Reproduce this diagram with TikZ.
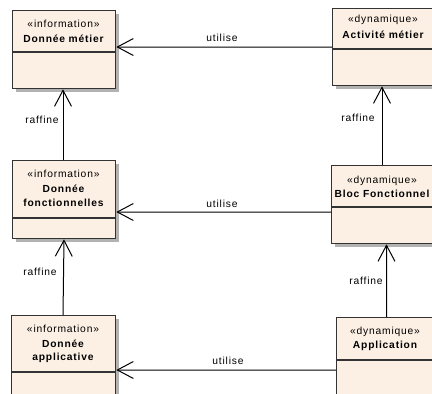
\documentclass[tikz,border=0pt]{standalone}
\usepackage{fontspec}
\setmainfont{Liberation Sans}[LetterSpace=8]
\usetikzlibrary{arrows.meta,shadows}
\definecolor{boxfill}{RGB}{252,240,228}
\begin{document}
\begin{tikzpicture}[x=1bp,y=-1bp,
  box/.style={draw=black!80, line width=1.3bp, fill=boxfill, anchor=north west, inner sep=0pt,
    drop shadow={shadow xshift=3bp, shadow yshift=-3bp, fill=black!30, opacity=1}},
  st/.style={font=\fontsize{10.3}{11}\selectfont, inner sep=0pt},
  ttl/.style={font=\fontsize{10.3}{11}\selectfont\bfseries, inner sep=0pt, align=center},
  lbl/.style={font=\fontsize{10.3}{11}\selectfont, inner sep=0pt},
  div/.style={draw=black!80, line width=1.1bp},
  rel/.style={draw=black, line width=1bp, -{Straight Barb[length=16bp,width=17bp,line width=1bp]}}
]
\useasboundingbox (0,0) rectangle (432,394);
\clip (0,0) rectangle (432,394);
% boxes
\node[box, minimum width=103bp, minimum height=78bp] (b1) at (12,10) {};
\node[box, minimum width=110bp, minimum height=77bp] (b2) at (332,8) {};
\node[box, minimum width=103bp, minimum height=78bp] (b3) at (12,160) {};
\node[box, minimum width=110bp, minimum height=78bp] (b4) at (331,165) {};
\node[box, minimum width=104bp, minimum height=100bp] (b5) at (11,315) {};
\node[box, minimum width=110bp, minimum height=100bp] (b6) at (336,317) {};
% dividers
\draw[div] ([yshift=-42bp]b1.north west) -- ([yshift=-42bp]b1.north east);
\draw[div] ([yshift=-41bp]b2.north west) -- ([yshift=-41bp]b2.north east);
\draw[div] ([yshift=-58bp]b3.north west) -- ([yshift=-58bp]b3.north east);
\draw[div] ([yshift=-42bp]b4.north west) -- ([yshift=-42bp]b4.north east);
\draw[div] ([yshift=-57bp]b5.north west) -- ([yshift=-57bp]b5.north east);
\draw[div] ([yshift=-43bp]b6.north west) -- ([yshift=-43bp]b6.north east);
% texts
\node[st] (s1) at (63.5,24) {«information»};
\node[ttl] (t1) at (63.5,39) {Donnée métier};
\node[st] (s2) at (383,20) {«dynamique»};
\node[ttl] (t2) at (383,35) {Activité métier};
\node[st] (s3) at (63.5,174) {«information»};
\node[ttl] (t3a) at (63.5,189) {Donnée};
\node[ttl] (t3b) at (63.5,203) {fonctionnelles};
\node[st] (s4) at (382,181) {«dynamique»};
\node[ttl] (t4) at (382,194) {Bloc Fonctionnel};
\node[st] (s5) at (63,329) {«information»};
\node[ttl] (t5a) at (63,344) {Donnée};
\node[ttl] (t5b) at (63,358) {applicative};
\node[st] (s6) at (385,332) {«dynamique»};
\node[ttl] (t6) at (385,346) {Application};
% connectors
\draw[rel] ([yshift=-39bp]b2.north west) -- ([yshift=-37bp]b1.north east);
\node[lbl] (u1) at (222,38) {utilise};
\draw[rel] ([yshift=-47bp]b4.north west) -- ([yshift=-52bp]b3.north east);
\node[lbl] (u2) at (222,204) {utilise};
\draw[rel] ([yshift=-53bp]b6.north west) -- ([yshift=-55bp]b5.north east);
\node[lbl] (u3) at (228,361) {utilise};
\draw[rel] ([xshift=51bp]b3.north west) -- ([xshift=51bp]b1.south west);
\node[lbl] (r1) at (42,120) {raffine};
\draw[rel] ([xshift=52bp]b5.north west) -- ([xshift=52bp]b3.south west);
\node[lbl] (r2) at (40,272) {raffine};
\draw[rel] ([xshift=51bp]b4.north west) -- ([xshift=50bp]b2.south west);
\node[lbl] (r3) at (358,118) {raffine};
\draw[rel] ([xshift=50.5bp]b6.north west) -- ([xshift=55.5bp]b4.south west);
\node[lbl] (r4) at (366,281) {raffine};
\end{tikzpicture}
\end{document}
